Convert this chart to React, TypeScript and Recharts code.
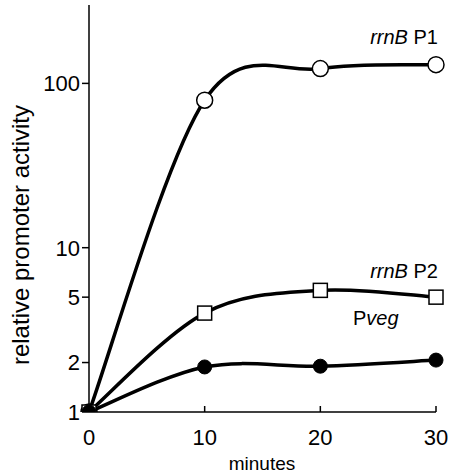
import { LineChart, Line, XAxis, YAxis } from "recharts";

const minutes = [0, 10, 20, 30];
const rrnBP1 = [1, 79, 123, 130];
const rrnBP2 = [1, 4.0, 5.5, 5.0];
const pveg = [1, 1.88, 1.9, 2.07];
const yTicks = [1, 2, 5, 10, 100];
const xTicks = [0, 10, 20, 30];

const data = minutes.map((m, i) => ({
  m,
  p1: rrnBP1[i],
  p2: rrnBP2[i],
  veg: pveg[i],
}));

const FONT = "Liberation Sans, Arial, sans-serif";

// catmull-rom style spline (d3 curve interface), smoother than "natural"
const cardinal = (ctx: any) => {
  let pts: number[][] = [];
  return {
    areaStart() {},
    areaEnd() {},
    lineStart() {
      pts = [];
    },
    point(x: number, y: number) {
      pts.push([+x, +y]);
    },
    lineEnd() {
      if (!pts.length) return;
      ctx.moveTo(pts[0][0], pts[0][1]);
      for (let i = 0; i < pts.length - 1; i++) {
        const p0 = pts[Math.max(i - 1, 0)];
        const p1 = pts[i];
        const p2 = pts[i + 1];
        const p3 = pts[Math.min(i + 2, pts.length - 1)];
        ctx.bezierCurveTo(
          p1[0] + (p2[0] - p0[0]) / 6,
          p1[1] + (p2[1] - p0[1]) / 6,
          p2[0] - (p3[0] - p1[0]) / 6,
          p2[1] - (p3[1] - p1[1]) / 6,
          p2[0],
          p2[1]
        );
      }
    },
  };
};

const XTick = (props: any) => {
  const { x, y, payload } = props;
  return (
    <g>
      <line x1={x} x2={x} y1={y} y2={y - 6} stroke="#000" strokeWidth={1.5} />
      <text x={x} y={y + 33} textAnchor="middle" fontSize={22} fontFamily={FONT} fill="#000">
        {payload.value}
      </text>
    </g>
  );
};

const OpenCircle = (props: any) => (
  <circle cx={props.cx} cy={props.cy} r={8} fill="#fff" stroke="#000" strokeWidth={1.5} />
);
const OpenSquare = (props: any) => (
  <rect x={props.cx - 7} y={props.cy - 7} width={14} height={14} fill="#fff" stroke="#000" strokeWidth={1.5} />
);
const FilledCircle = (props: any) => (
  <circle cx={props.cx} cy={props.cy} r={7} fill="#000" stroke="#000" />
);

export default function App() {
  return (
    <div style={{ position: "absolute", left: 0, top: 0, background: "#fff" }}>
      <LineChart width={450} height={473} data={data} margin={{ top: 5, right: 14, left: 29, bottom: 31 }}>
        <XAxis
          dataKey="m"
          type="number"
          domain={[0, 30]}
          ticks={xTicks}
          tickSize={0}
          tickMargin={0}
          tickLine={false}
          axisLine={{ stroke: "#000", strokeWidth: 1.5 }}
          tick={<XTick />}
          height={30}
        />
        <YAxis
          scale="log"
          domain={[1, 300]}
          ticks={yTicks}
          allowDataOverflow
          width={60}
          tickSize={7}
          tickMargin={2}
          axisLine={{ stroke: "#000", strokeWidth: 1.5 }}
          tickLine={{ stroke: "#000", strokeWidth: 1.5 }}
          tick={{ fontSize: 22, fontFamily: FONT, fill: "#000" }}
        />
        <Line type={cardinal as any} dataKey="p1" stroke="#000" strokeWidth={3.5} dot={<OpenCircle />} isAnimationActive={false} />
        <Line type={cardinal as any} dataKey="p2" stroke="#000" strokeWidth={3.5} dot={<OpenSquare />} isAnimationActive={false} />
        <Line type={cardinal as any} dataKey="veg" stroke="#000" strokeWidth={3.5} dot={<FilledCircle />} isAnimationActive={false} />
        <text x={438} y={44} textAnchor="end" fontSize={20} fontFamily={FONT} fill="#000">
          <tspan fontStyle="italic">rrnB</tspan> P1
        </text>
        <text x={438} y={278} textAnchor="end" fontSize={20} fontFamily={FONT} fill="#000">
          <tspan fontStyle="italic">rrnB</tspan> P2
        </text>
        <text x={353} y={325} fontSize={20} fontFamily={FONT} fill="#000">
          P<tspan fontStyle="italic">veg</tspan>
        </text>
        <text x={262} y={470} textAnchor="middle" fontSize={19} fontFamily={FONT} fill="#000">
          minutes
        </text>
        <text
          x={20}
          y={235}
          transform="rotate(-90 20 235)"
          textAnchor="middle"
          dominantBaseline="central"
          fontSize={24}
          fontFamily={FONT}
          fill="#000"
        >
          relative promoter activity
        </text>
      </LineChart>
    </div>
  );
}
